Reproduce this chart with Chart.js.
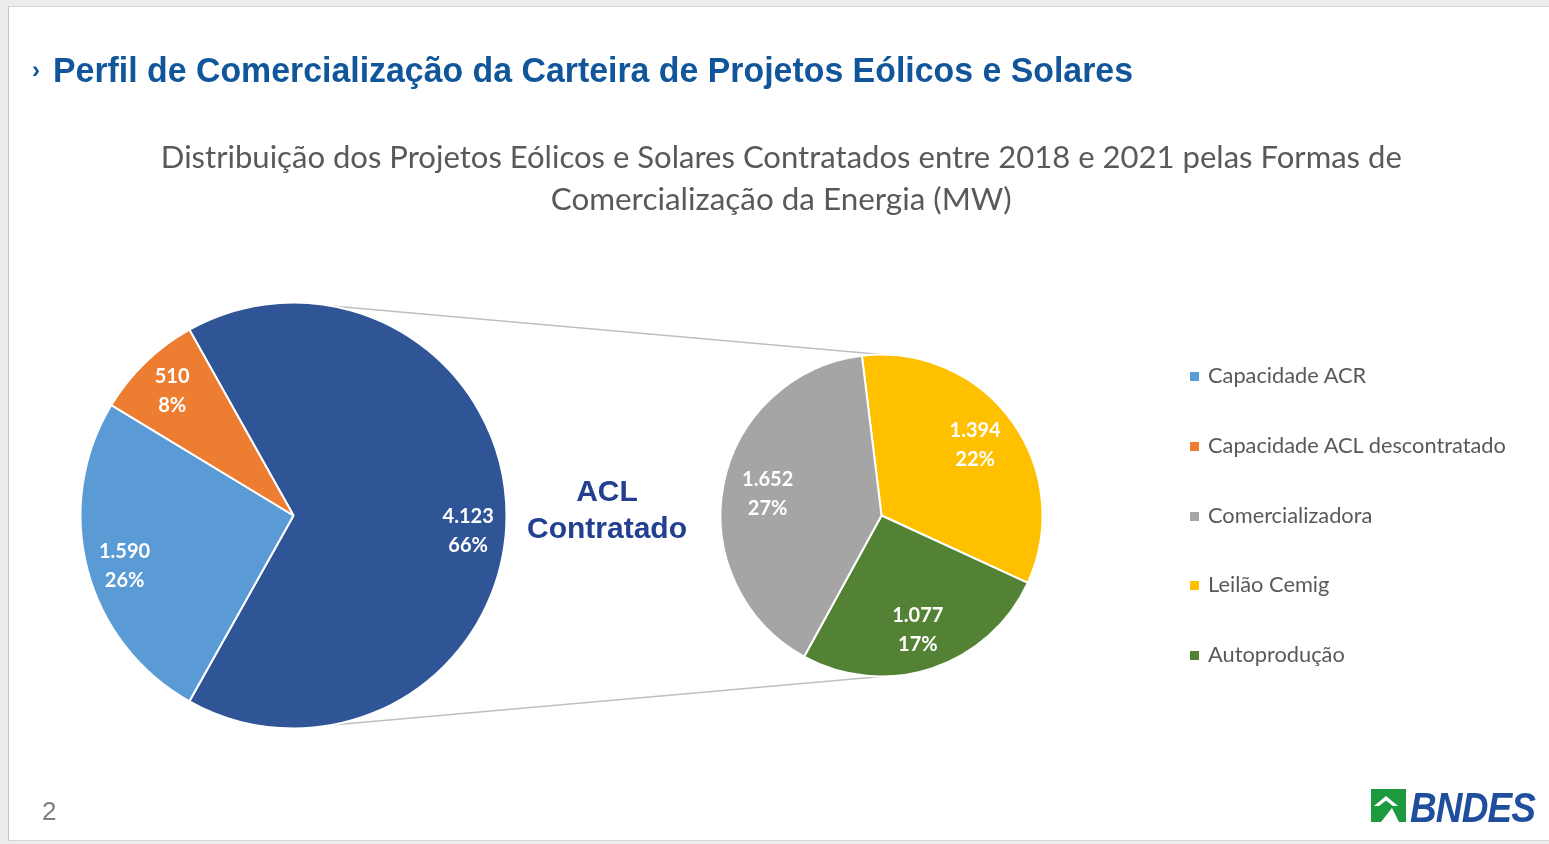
<!DOCTYPE html>
<html>
<head>
<meta charset="utf-8">
<script src="https://cdn.jsdelivr.net/npm/chart.js@4.4.1/dist/chart.umd.min.js"></script>
<style>
html, body { margin: 0; padding: 0; }
body { width: 1549px; height: 844px; overflow: hidden; position: relative; background: #ececec; font-family: Lato, "Open Sans", sans-serif; }
#slide { position: absolute; left: 8px; top: 6px; width: 1541px; height: 833px; background: #fff; border-left: 1px solid #c4c4c4; border-top: 1px solid #d6d6d6; border-bottom: 1px solid #d6d6d6; }
.abs { position: absolute; }
#title { left: 53px; top: 50px; font: bold 35px "Liberation Sans", Arial, sans-serif; color: #11569a; white-space: nowrap; transform-origin: left center; }
#marker { left: 32px; top: 56px; font: bold 24px "Liberation Sans", Arial, sans-serif; color: #11569a; }
.sub { left: 7px; width: 1549px; text-align: center; font-size: 30px; color: #595959; white-space: nowrap; line-height: 42px; }
.sub span { display: inline-block; transform-origin: center center; }
#acl { left: 507px; width: 200px; top: 472px; text-align: center; font: bold 30px/37px "Liberation Sans", Arial, sans-serif; color: #22408f; }
#legend { left: 1190px; top: 360px; }
.item { position: absolute; left: 0; white-space: nowrap; font-size: 21.8px; color: #595959; height: 30px; line-height: 30px; }
.item i { display: inline-block; width: 9px; height: 9px; margin-right: 9px; vertical-align: 2px; }
#page { left: 42px; top: 796px; font: 26px "Liberation Sans", Arial, sans-serif; color: #7f7f7f; }
#logo { left: 1371px; top: 789px; }
#bndes { left: 1410px; top: 784px; font: italic bold 42px "Liberation Sans", Arial, sans-serif; color: #1e4e9c; transform-origin: left center; letter-spacing: -1px; }
canvas { position: absolute; }
</style>
</head>
<body>
<div id="slide"></div>
<canvas id="links" width="1549" height="844" style="left:0;top:0;"></canvas>
<div class="abs" id="marker">›</div>
<div class="abs" id="title" data-fit="1080">Perfil de Comercialização da Carteira de Projetos Eólicos e Solares</div>
<div class="abs sub" style="top:135px;"><span data-fit="1241">Distribuição dos Projetos Eólicos e Solares Contratados entre 2018 e 2021 pelas Formas de</span></div>
<div class="abs sub" style="top:177px;"><span data-fit="461">Comercialização da Energia (MW)</span></div>
<canvas id="mainPie" width="441" height="441" style="left:73px;top:295px;"></canvas>
<canvas id="subPie" width="341" height="341" style="left:711px;top:345px;"></canvas>
<div class="abs" id="acl">ACL<br>Contratado</div>
<div class="abs" id="legend"></div>
<div class="abs" id="page">2</div>
<svg class="abs" id="logo" width="35" height="33" viewBox="0 0 35 33">
  <rect width="35" height="33" fill="#1e9a3e"/>
  <polygon points="3,17 15,7 27,17 22,17 15,11.5 8,17" fill="#fff"/>
  <polygon points="10,33 21,19 28,33" fill="#fff"/>
</svg>
<div class="abs" id="bndes" data-fit="125">BNDES</div>

<script>
// primary pie (MW)
var mainLabels = ['ACL Contratado', 'Capacidade ACR', 'Capacidade ACL descontratado'];
var mainValues = [4123, 1590, 510];
var mainColors = ['#2f5597', '#5b9bd5', '#ed7d31'];

// secondary pie: breakdown of ACL Contratado (MW)
var subLabels = ['Leilão Cemig', 'Autoprodução', 'Comercializadora'];
var subValues = [1394, 1077, 1652];
var subColors = ['#ffc000', '#548235', '#a5a5a5'];

// legend order as in the slide
var legendLabels = ['Capacidade ACR', 'Capacidade ACL descontratado', 'Comercializadora', 'Leilão Cemig', 'Autoprodução'];

var total = mainValues.reduce(function (a, b) { return a + b; }, 0);

function fmt(v) {
    // pt-BR thousands separator
    return String(v).replace(/\B(?=(\d{3})+(?!\d))/g, '.');
}

var sliceLabels = {
    id: 'sliceLabels',
    afterDatasetsDraw: function (chart, args, opts) {
        var ctx = chart.ctx;
        var meta = chart.getDatasetMeta(0);
        var values = chart.data.datasets[0].data;
        var nudge = opts.nudge || [];
        ctx.save();
        ctx.fillStyle = '#ffffff';
        ctx.font = 'bold 20px Lato';
        ctx.textAlign = 'center';
        ctx.textBaseline = 'middle';
        meta.data.forEach(function (arc, i) {
            var mid = (arc.startAngle + arc.endAngle) / 2;
            var r = arc.outerRadius * opts.ratio;
            var x = arc.x + Math.cos(mid) * r;
            var y = arc.y + Math.sin(mid) * r + (nudge[i] || 0);
            ctx.fillText(fmt(values[i]), x, y - 14.5);
            ctx.fillText(Math.round(values[i] / total * 100) + '%', x, y + 14.5);
        });
        ctx.restore();
    }
};

function pieConfig(labels, values, colors, radius, rotation, labelOpts) {
    return {
        type: 'pie',
        data: {
            labels: labels,
            datasets: [{ data: values, backgroundColor: colors, borderColor: '#ffffff', borderWidth: 2, radius: radius }]
        },
        options: {
            responsive: false,
            animation: false,
            devicePixelRatio: 1,
            rotation: rotation,
            layout: { padding: 0 },
            events: [],
            plugins: {
                legend: { display: false },
                tooltip: { enabled: false },
                sliceLabels: labelOpts
            }
        },
        plugins: [sliceLabels]
    };
}

// first slice centred on 3 o'clock
var mainRotation = 90 - (mainValues[0] / total * 360) / 2;
var mainChart = new Chart(document.getElementById('mainPie'),
    pieConfig(mainLabels, mainValues, mainColors, 213, mainRotation, { ratio: 0.82, nudge: [16, 6, 1] }));
var subChart = new Chart(document.getElementById('subPie'),
    pieConfig(subLabels, subValues, subColors, 161, -7, { ratio: 0.72, nudge: [-2, 4, 0] }));

// connector lines between the two pies
function drawLinks() {
    var c = document.getElementById('links');
    var ctx = c.getContext('2d');
    var a = mainChart.getDatasetMeta(0).data[0];
    var b = subChart.getDatasetMeta(0).data[0];
    var ax = mainChart.canvas.offsetLeft + a.x, ay = mainChart.canvas.offsetTop + a.y;
    var bx = subChart.canvas.offsetLeft + b.x, by = subChart.canvas.offsetTop + b.y;
    var ang = (90 - 10.5) * Math.PI / 180;
    ctx.strokeStyle = '#bfbfbf';
    ctx.lineWidth = 1.5;
    [-1, 1].forEach(function (s) {
        ctx.beginPath();
        ctx.moveTo(ax + Math.cos(ang) * a.outerRadius, ay + s * Math.sin(ang) * a.outerRadius);
        ctx.lineTo(bx, by + s * b.outerRadius);
        ctx.stroke();
    });
}
drawLinks();

// legend
var colorOf = {};
mainLabels.forEach(function (l, i) { colorOf[l] = mainColors[i]; });
subLabels.forEach(function (l, i) { colorOf[l] = subColors[i]; });
var legend = document.getElementById('legend');
legendLabels.forEach(function (l, i) {
    var d = document.createElement('div');
    d.className = 'item';
    d.style.top = (i * 69.8) + 'px';
    d.innerHTML = '<i style="background:' + colorOf[l] + '"></i>' + l;
    legend.appendChild(d);
});

// squeeze text to the slide's widths
function fit() {
    document.querySelectorAll('[data-fit]').forEach(function (el) {
        el.style.display = 'inline-block';
        var w = el.getBoundingClientRect().width;
        var target = parseFloat(el.getAttribute('data-fit'));
        el.style.transform = 'scaleX(' + (target / w) + ')';
    });
}
fit();
</script>
</body>
</html>
